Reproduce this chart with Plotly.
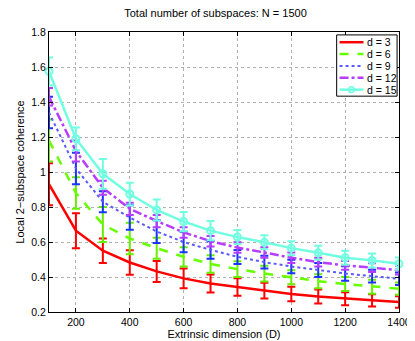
import plotly.graph_objects as go

D = [100, 200, 300, 400, 500, 600, 700, 800, 900, 1000, 1100, 1200, 1300, 1400]

d3_mean = [0.93, 0.665, 0.55, 0.483, 0.432, 0.392, 0.363, 0.343, 0.322, 0.303, 0.288, 0.276, 0.267, 0.257]
d3_err = [0.12, 0.10, 0.07, 0.07, 0.06, 0.056, 0.052, 0.05, 0.045, 0.042, 0.04, 0.037, 0.035, 0.033]

d6_mean = [1.18, 0.88, 0.70, 0.62, 0.565, 0.515, 0.475, 0.445, 0.42, 0.398, 0.376, 0.36, 0.345, 0.333]
d6_err = [0.12, 0.09, 0.10, 0.09, 0.06, 0.055, 0.05, 0.045, 0.045, 0.04, 0.04, 0.04, 0.04, 0.035]

d9_mean = [1.34, 1.02, 0.83, 0.74, 0.66, 0.60, 0.555, 0.515, 0.485, 0.46, 0.44, 0.42, 0.405, 0.39]
d9_err = [0.09, 0.09, 0.06, 0.07, 0.065, 0.058, 0.05, 0.04, 0.037, 0.038, 0.04, 0.042, 0.037, 0.036]

d12_mean = [1.43, 1.12, 0.91, 0.79, 0.72, 0.655, 0.605, 0.568, 0.54, 0.51, 0.485, 0.466, 0.453, 0.44]
d12_err = [0.05, 0.06, 0.04, 0.035, 0.035, 0.03, 0.03, 0.03, 0.03, 0.03, 0.025, 0.025, 0.025, 0.025]

d15_mean = [1.575, 1.19, 0.99, 0.874, 0.783, 0.717, 0.665, 0.628, 0.598, 0.565, 0.538, 0.51, 0.495, 0.476]
d15_err = [0.08, 0.065, 0.085, 0.065, 0.06, 0.055, 0.055, 0.04, 0.04, 0.04, 0.04, 0.04, 0.04, 0.035]

labels = ["d = 3", "d = 6", "d = 9", "d = 12", "d = 15"]

series = [
    (labels[0], d3_mean, d3_err, "#ff0000", "solid", 2.5, "#ff0000", False),
    (labels[1], d6_mean, d6_err, "#66ff00", "dash", 2.5, "#66ee00", False),
    (labels[2], d9_mean, d9_err, "#5a5aff", "dot", 2, "#1a33ff", False),
    (labels[3], d12_mean, d12_err, "#b63cff", "dashdot", 2.5, "#b63cff", False),
    (labels[4], d15_mean, d15_err, "#70ffe0", "solid", 2.5, "#70ffe0", True),
]

W, H = 415, 341
ML, MR, MT, MB = 35, 15, 24, 29
PW, PH = W - ML - MR, H - MT - MB

def px(x):
    return (x - ML) / PW

def py(y):
    return (H - MB - y) / PH

fig = go.Figure()
for name, m, e, col, dash, lw, ecol, mk in series:
    fig.add_trace(go.Scatter(
        x=D, y=m, name=name,
        mode="lines+markers" if mk else "lines",
        line=dict(color=col, dash=dash, width=lw),
        marker=dict(symbol="circle-open", size=7, color=col, line=dict(width=2, color=col)) if mk else None,
        error_y=dict(type="data", array=e, visible=True, color=ecol, thickness=2, width=4),
        cliponaxis=False,
    ))

# custom compact legend (MATLAB style)
shapes = [dict(type="rect", xref="paper", yref="paper",
               x0=px(335), x1=px(398), y0=py(90), y1=py(27),
               line=dict(color="black", width=1), fillcolor="white", layer="above")]
annotations = []
dash_map = {"solid": "solid", "dash": "dash", "dot": "dot", "dashdot": "dashdot"}
for i, (name, m, e, col, dash, lw, ecol, mk) in enumerate(series):
    yy = 34.5 + i * 12.2
    shapes.append(dict(type="line", xref="paper", yref="paper",
                       x0=px(338), x1=px(363), y0=py(yy), y1=py(yy),
                       line=dict(color=col, width=lw, dash=dash_map[dash]), layer="above"))
    if mk:
        shapes.append(dict(type="circle", xref="paper", yref="paper",
                           x0=px(347.5), x1=px(353.5), y0=py(yy + 3), y1=py(yy - 3),
                           line=dict(color=col, width=1.5), layer="above"))
    annotations.append(dict(xref="paper", yref="paper", x=px(365), y=py(yy),
                            xanchor="left", yanchor="middle", text=name, showarrow=False,
                            font=dict(size=10.5, color="black")))

axis_common = dict(
    showline=True, linecolor="black", linewidth=1, mirror="allticks",
    ticks="inside", ticklen=4, tickcolor="black",
    showgrid=True, gridcolor="#b0b0b0", griddash="dot", gridwidth=1,
    zeroline=False, tickfont=dict(size=10.5, color="black"),
)

fig.update_layout(
    width=W, height=H,
    margin=dict(l=ML, r=MR, t=MT, b=MB),
    paper_bgcolor="white", plot_bgcolor="white",
    font=dict(family="Liberation Sans, Arial, sans-serif", size=10, color="black"),
    title=dict(text="Total number of subspaces: N = 1500", x=0.5, xanchor="center",
               y=0.997, yanchor="top", font=dict(size=11)),
    xaxis=dict(range=[100, 1400], tickvals=[200, 400, 600, 800, 1000, 1200, 1400],
               title=dict(text="Extrinsic dimension (D)", standoff=2, font=dict(size=11)),
               **axis_common),
    yaxis=dict(range=[0.2, 1.8], tickvals=[0.2, 0.4, 0.6, 0.8, 1.0, 1.2, 1.4, 1.6, 1.8],
               title=dict(text="Local 2\u2212subspace coherence", standoff=4, font=dict(size=11)),
               **axis_common),
    shapes=shapes,
    annotations=annotations,
    showlegend=False,
)

fig.write_html("out.html")
